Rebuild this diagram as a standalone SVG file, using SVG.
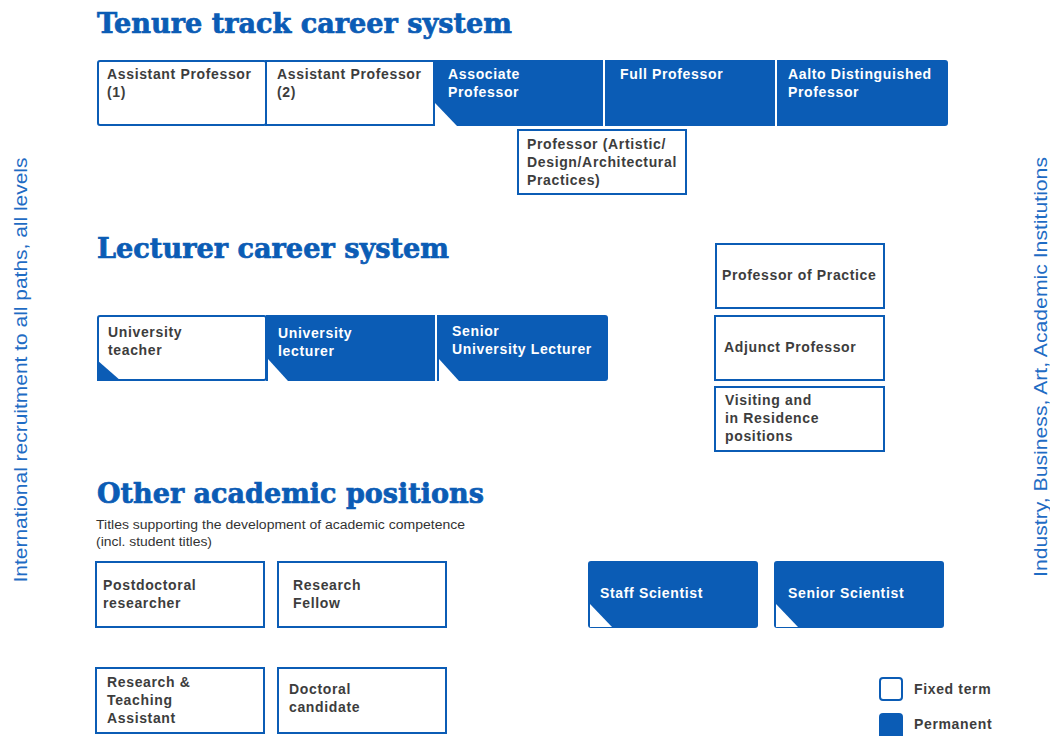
<svg xmlns="http://www.w3.org/2000/svg" width="1050" height="736" viewBox="0 0 1050 736">
<style>
.h{font-family:"DejaVu Serif","Liberation Serif",serif;font-weight:bold;font-size:27px;fill:#0b5cb5;stroke:#0b5cb5;stroke-width:0.7px}
.t{font-family:"Liberation Sans",Arial,sans-serif;font-weight:bold;font-size:14px;letter-spacing:0.65px;fill:#3d3d3d}
.tw{font-family:"Liberation Sans",Arial,sans-serif;font-weight:bold;font-size:14px;letter-spacing:0.65px;fill:#ffffff}
.sub{font-family:"Liberation Sans",Arial,sans-serif;font-size:12.5px;fill:#333333}
.side{font-family:"Liberation Sans",Arial,sans-serif;font-size:18px;fill:#1f6cc4}
.box{fill:#ffffff;stroke:#0b5cb5;stroke-width:2}
.blue{fill:#0b5cb5}
.wt{fill:#ffffff}
</style>
<rect width="1050" height="736" fill="#ffffff"/>

<text class="h" x="97" y="33" textLength="415" lengthAdjust="spacingAndGlyphs">Tenure track career system</text>
<text class="h" x="97" y="258" textLength="352" lengthAdjust="spacingAndGlyphs">Lecturer career system</text>
<text class="h" x="97" y="503" textLength="387" lengthAdjust="spacingAndGlyphs">Other academic positions</text>
<text class="sub" x="96" y="529" textLength="369" lengthAdjust="spacingAndGlyphs">Titles supporting the development of academic competence</text>
<text class="sub" x="96" y="546" textLength="116" lengthAdjust="spacingAndGlyphs">(incl. student titles)</text>

<text class="side" transform="translate(27,370) rotate(-90)" text-anchor="middle" textLength="425" lengthAdjust="spacingAndGlyphs">International recruitment to all paths, all levels</text>
<text class="side" transform="translate(1047,367) rotate(-90)" text-anchor="middle" textLength="420" lengthAdjust="spacingAndGlyphs">Industry, Business, Art, Academic Institutions</text>

<g id="connectors"></g>

<!-- Tenure track -->
<g id="assistant1">
<rect class="box" x="98" y="61" width="168" height="64" rx="2"/>
<text class="t" x="107" y="79">Assistant Professor</text>
<text class="t" x="107" y="97">(1)</text>
</g>
<g id="assistant2">
<rect class="box" x="266" y="61" width="168" height="64"/>
<text class="t" x="277" y="79">Assistant Professor</text>
<text class="t" x="277" y="97">(2)</text>
</g>
<g id="associate">
<rect class="blue" x="434" y="60" width="169" height="66"/>
<polygon class="wt" points="435,103 435,126 457,126"/>
<text class="tw" x="448" y="79">Associate</text>
<text class="tw" x="448" y="97">Professor</text>
</g>
<g id="full">
<rect class="blue" x="605" y="60" width="170" height="66"/>
<text class="tw" x="620" y="79">Full Professor</text>
</g>
<g id="aalto">
<rect class="blue" x="777" y="60" width="171" height="66" rx="3"/>
<rect class="blue" x="777" y="60" width="10" height="66"/>
<text class="tw" x="788" y="79">Aalto Distinguished</text>
<text class="tw" x="788" y="97">Professor</text>
</g>
<g id="artistic">
<rect class="box" x="518" y="130" width="168" height="64"/>
<text class="t" x="527" y="149">Professor (Artistic/</text>
<text class="t" x="527" y="167">Design/Architectural</text>
<text class="t" x="527" y="185">Practices)</text>
</g>

<!-- Lecturer -->
<g id="uteacher">
<rect class="box" x="98" y="316" width="168" height="64" rx="2"/>
<polygon class="blue" points="97,360 97,381 121,381"/>
<text class="t" x="108" y="337">University</text>
<text class="t" x="108" y="355">teacher</text>
</g>
<g id="ulecturer">
<rect class="blue" x="266" y="315" width="169" height="66"/>
<polygon class="wt" points="268,359 268,381 288,381"/>
<text class="tw" x="278" y="338">University</text>
<text class="tw" x="278" y="356">lecturer</text>
</g>
<g id="senior">
<rect class="blue" x="437" y="315" width="171" height="66" rx="3"/>
<rect class="blue" x="437" y="315" width="10" height="66"/>
<polygon class="wt" points="439,359 439,381 459,381"/>
<text class="tw" x="452" y="336">Senior</text>
<text class="tw" x="452" y="354">University Lecturer</text>
</g>

<!-- Right column -->
<g id="practice">
<rect class="box" x="716" y="244" width="168" height="64"/>
<text class="t" x="722" y="280">Professor of Practice</text>
</g>
<g id="adjunct">
<rect class="box" x="715" y="316" width="169" height="64"/>
<text class="t" x="724" y="352">Adjunct Professor</text>
</g>
<g id="visiting">
<rect class="box" x="715" y="387" width="169" height="64"/>
<text class="t" x="725" y="405">Visiting and</text>
<text class="t" x="725" y="423">in Residence</text>
<text class="t" x="725" y="441">positions</text>
</g>

<!-- Other academic -->
<g id="postdoc">
<rect class="box" x="96" y="562" width="168" height="65"/>
<text class="t" x="103" y="590">Postdoctoral</text>
<text class="t" x="103" y="608">researcher</text>
</g>
<g id="fellow">
<rect class="box" x="278" y="562" width="168" height="65"/>
<text class="t" x="293" y="590">Research</text>
<text class="t" x="293" y="608">Fellow</text>
</g>
<g id="rta">
<rect class="box" x="96" y="668" width="168" height="65"/>
<text class="t" x="107" y="687">Research &amp;</text>
<text class="t" x="107" y="705">Teaching</text>
<text class="t" x="107" y="723">Assistant</text>
</g>
<g id="doctoral">
<rect class="box" x="278" y="668" width="168" height="65"/>
<text class="t" x="289" y="694">Doctoral</text>
<text class="t" x="289" y="712">candidate</text>
</g>
<g id="staff">
<rect class="blue" x="588" y="561" width="170" height="67" rx="3"/>
<polygon class="wt" points="590,604 590,627 612,627"/>
<text class="tw" x="600" y="598">Staff Scientist</text>
</g>
<g id="seniorsci">
<rect class="blue" x="774" y="561" width="170" height="67" rx="3"/>
<polygon class="wt" points="776,604 776,627 798,627"/>
<text class="tw" x="788" y="598">Senior Scientist</text>
</g>

<!-- Legend -->
<g id="legend">
<rect class="box" x="880" y="678" width="22" height="22" rx="3"/>
<text class="t" x="914" y="694">Fixed term</text>
<rect class="blue" x="879" y="713" width="24" height="26" rx="4"/>
<text class="t" x="914" y="729">Permanent</text>
</g>
</svg>
